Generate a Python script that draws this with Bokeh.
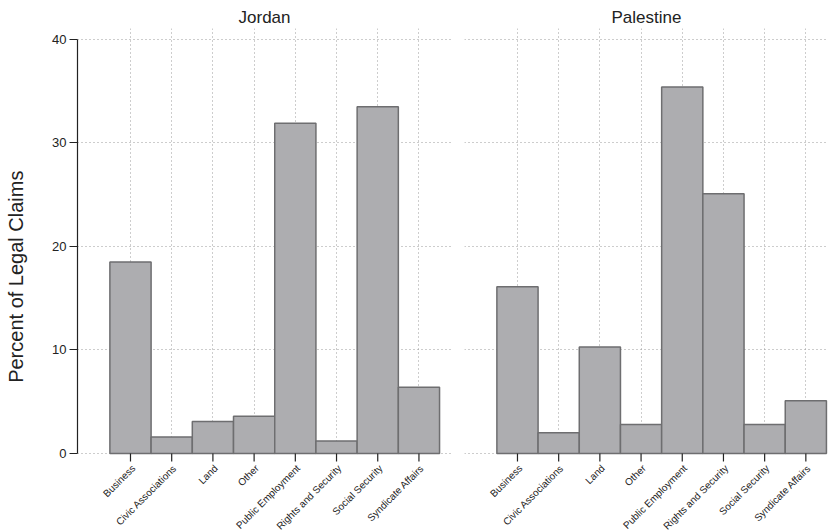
import math

from bokeh.core.properties import value
from bokeh.embed import file_html
from bokeh.layouts import row
from bokeh.models import ColumnDataSource, FixedTicker, Label, Range1d
from bokeh.plotting import figure
from bokeh.resources import INLINE

# Legal-claim categories and their share (percent) in each country
categories = [
    "Business",
    "Civic Associations",
    "Land",
    "Other",
    "Public Employment",
    "Rights and Security",
    "Social Security",
    "Syndicate Affairs",
]
jordan_pct = [18.5, 1.6, 3.1, 3.6, 31.9, 1.2, 33.5, 6.4]
palestine_pct = [16.1, 2.0, 10.3, 2.8, 35.4, 25.1, 2.8, 5.1]
y_ticks = [0, 10, 20, 30, 40]

FONT = "Liberation Sans"
BAR_FILL = "#adadb0"
BAR_LINE = "#6e6e70"
GRID = "#9a9a9a"
INK = "#222222"

H = 531
TOP = 28            # space for the panel title
Y_TOP = 41.06       # upper end of the value range
LABEL_ROOM = 78     # pixels below zero kept for the slanted category names
PX_PER_UNIT = (H - TOP - LABEL_ROOM) / Y_TOP
Y_BOTTOM = -LABEL_ROOM / PX_PER_UNIT
TICK_LEN = 8 / PX_PER_UNIT

positions = list(range(1, len(categories) + 1))


def make_panel(title, values, width, x_end, left, right, show_y):
    p = figure(
        width=width,
        height=H,
        x_range=Range1d(-0.286, x_end),
        y_range=Range1d(Y_BOTTOM, Y_TOP),
        output_backend="svg",
        toolbar_location=None,
        min_border_left=left,
        min_border_right=right,
        min_border_top=TOP,
        min_border_bottom=0,
    )
    p.outline_line_color = None
    p.background_fill_color = "white"
    p.xaxis.visible = False

    n = len(positions)
    src = ColumnDataSource(dict(x=positions, top=values, base=[0] * n,
                                tick=[-TICK_LEN] * n, name=categories))

    # dotted grid at every category and every y tick
    for g in (p.xgrid, p.ygrid):
        g.grid_line_color = GRID
        g.grid_line_dash = "1 3"
        g.grid_line_width = 1
    p.xgrid.ticker = FixedTicker(ticks=positions)
    p.ygrid.ticker = FixedTicker(ticks=y_ticks)
    if hasattr(p.xgrid, "cross_bounds"):
        p.xgrid.cross_bounds = (0, Y_TOP)

    p.vbar(x="x", top="top", width=1.0, source=src,
           fill_color=BAR_FILL, line_color=BAR_LINE, line_width=1.5)

    # category tick marks and slanted names under the zero line
    p.segment(x0="x", y0="base", x1="x", y1="tick", source=src,
              line_color=INK, line_width=1.2)
    p.text(x="x", y="base", text="name", source=src,
           angle=math.pi / 4, text_align="right", text_baseline="middle",
           x_offset=3, y_offset=13,
           text_font=value(FONT), text_font_size=value("10px"),
           text_color=INK)

    # panel title
    p.title.text = title
    p.title.align = "center"
    p.title.text_font = FONT
    p.title.text_font_size = "17px"
    p.title.text_font_style = "normal"
    p.title.text_color = INK
    p.title.standoff = 4

    ya = p.yaxis[0]
    if show_y:
        ya.ticker = FixedTicker(ticks=y_ticks)
        ya.bounds = (0, 40)
        ya.major_label_text_font = FONT
        ya.major_label_text_font_size = "13px"
        ya.major_label_text_color = INK
        ya.axis_line_color = INK
        ya.axis_line_width = 1.2
        ya.major_tick_out = 8
        ya.major_tick_in = 0
        ya.major_tick_line_color = INK
        ya.minor_tick_line_color = None
        ya.major_label_standoff = 3
    else:
        ya.visible = False
    return p


# narrow strip carrying the shared y-axis title
LABEL_W = 36
p_label = figure(
    width=LABEL_W, height=H,
    x_range=Range1d(0, LABEL_W), y_range=Range1d(0, H),
    output_backend="svg", toolbar_location=None,
    min_border_left=0, min_border_right=0, min_border_top=0, min_border_bottom=0,
)
p_label.axis.visible = False
p_label.grid.visible = False
p_label.outline_line_color = None
p_label.add_layout(Label(
    x=15, y=H - 262, text="Percent of Legal Claims", angle=math.pi / 2,
    text_align="center", text_baseline="middle",
    text_font=FONT, text_font_size="20px", text_color=INK,
))

p_jordan = make_panel("Jordan", jordan_pct, 457 - LABEL_W, 8.79, 77 - LABEL_W, 6, True)
p_palestine = make_panel("Palestine", palestine_pct, 373, 8.55, 7, 2, False)

layout = row(p_label, p_jordan, p_palestine)

with open("out.html", "w") as f:
    f.write(file_html(layout, INLINE))
